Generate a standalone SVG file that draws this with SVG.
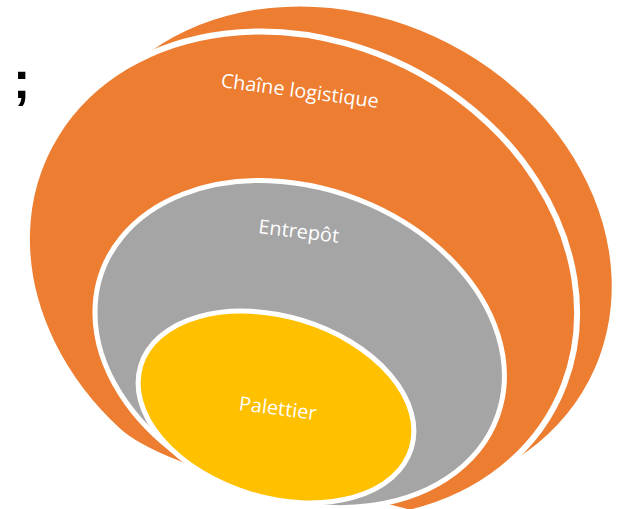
<svg xmlns="http://www.w3.org/2000/svg" width="618" height="509" viewBox="0 0 618 509">
<style>
.orange{fill:#ED7D31}
.ring{stroke:#FFFFFF;stroke-linejoin:round}
.gray{fill:#A5A5A5}
.yellow{fill:#FFC000}
.lbl{font-family:"Open Sans","Noto Sans",sans-serif;font-size:19.5px;fill:#FFFFFF;text-anchor:middle}
</style>
<rect width="618" height="509" fill="#FFFFFF"/>
<text x="13" y="98" font-family="Liberation Sans, Arial, sans-serif" font-weight="bold" font-size="52" fill="#000000">;</text>
<g id="connectors"/>
<g id="node-chaine">
<path class="orange" d="M 119.9,77.7 A 282 236 26 1 1 465.7,483 L 330,280 Z"/>
<path class="orange ring" stroke-width="6" d="M 118.3,431 A 284 234 26 1 1 409.9,512.7 L 360,500 L 250,482 C 200,478 136.7,448 118.3,431 Z"/>
<text class="lbl" x="299" y="97.5" textLength="159" lengthAdjust="spacingAndGlyphs" transform="rotate(7.6 299 97.5)">Chaîne logistique</text>
</g>
<g id="node-entrepot">
<path class="gray ring" stroke-width="5" d="M 181.2,456.5 A 210.5 156 20.3 1 1 280.5,500.8 Z"/>
<text class="lbl" x="298" y="238" textLength="81" lengthAdjust="spacingAndGlyphs" transform="rotate(7 298 238)">Entrepôt</text>
</g>
<g id="node-palettier">
<ellipse class="yellow ring" stroke-width="5" cx="276" cy="407" rx="141.5" ry="90.5" transform="rotate(17 276 407)"/>
<text class="lbl" x="277" y="415" textLength="78" lengthAdjust="spacingAndGlyphs" transform="rotate(7.4 277 415)">Palettier</text>
</g>
</svg>
